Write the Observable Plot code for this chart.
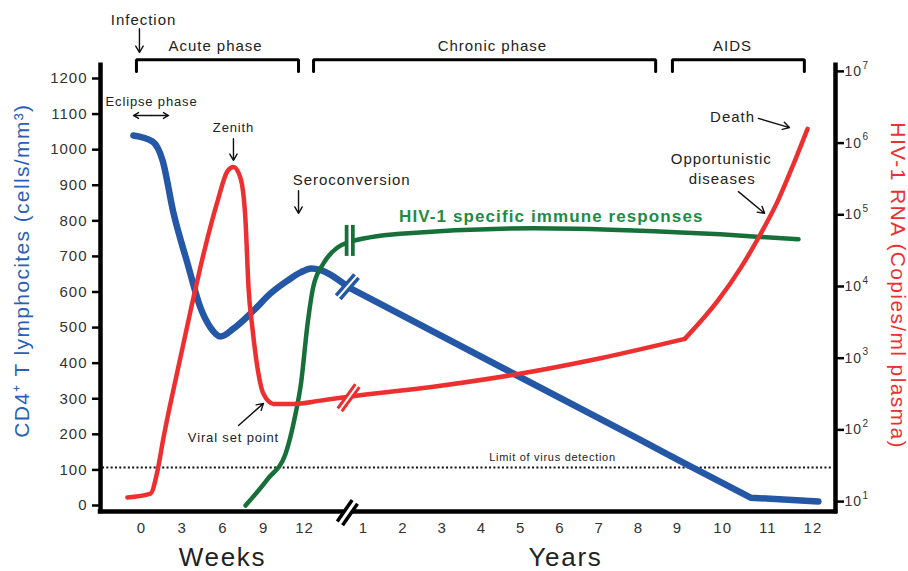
<!DOCTYPE html>
<html><head><meta charset="utf-8">
<script src="https://cdn.jsdelivr.net/npm/d3@7"></script>
<script src="https://cdn.jsdelivr.net/npm/@observablehq/plot@0.6"></script>
<style>
body{margin:0;background:#fff}
svg text{letter-spacing:0.065em}
</style></head><body><div id="chart"></div>
<script>
// ---- data ----
// CD4+ T lymphocytes (cells/mm3): [time, value]
const cd4Weeks = [[-0.59,1040],[0.81,1023],[1.55,970],[2.36,821],[3.39,680],[4.34,556],[5.08,500],[5.82,475],[6.77,497],[8.25,548],[9.5,596],[10.75,632],[11.71,655],[12.52,666]];
const cd4Years = [[0.62,613],[1,591],[8,187],[9,129],[10.62,22],[12.12,11]];
// HIV-1 RNA (copies/ml plasma)
const rnaWeeks = [[-1.03,11.4],[0.66,12.9],[1.18,27],[1.62,78],[2.65,664],[3.61,4570],[4.56,28000],[5.6,155000],[6.33,407000],[6.77,465000],[7.29,325000],[7.66,81000],[7.88,9500],[8.17,2600],[8.54,735],[8.98,318],[9.72,230],[11.19,230],[13.2,256]];
const rnaYears = [[0.62,290],[2.78,400],[4.82,587],[7.03,1000],[9.16,1860]];
const rnaAids = [[9.16,1860],[9.89,6300],[10.4,18200],[10.84,54000],[11.22,155000],[11.57,510000],[11.88,1580000]];
// HIV-1 specific immune responses (relative, on CD4 axis)
const immuneWeeks = [[7.66,0],[9.3,75],[10.6,145],[11.3,250],[11.75,345],[12.22,506],[12.66,613]];
const immuneYears = [[-0.02,680],[0.34,725],[0.59,739],[1.94,764],[5.33,779],[7.87,773],[9.95,762],[11.68,748]];
const detectionLimit = 30; // copies/ml
const weekTicks = [0,3,6,9,12];
const yearTicks = [1,2,3,4,5,6,7,8,9,10,11,12];
const cd4Ticks = d3.range(0,1201,100);
const rnaExponents = [1,2,3,4,5,6,7];

// ---- mapping helpers ----
const wk = w => w/3, yr = y => y + 4.5;
const rnaY = v => 11 + (Math.log10(v) - 1) * 201.5;
const series = (weeks, years, f = v => v) =>
  [...weeks.map(([t,v]) => ({x: wk(t), y: f(v)})), ...years.map(([t,v]) => ({x: yr(t), y: f(v)}))];
const cd4Acute = series(cd4Weeks, cd4Years.slice(0,1));
const cd4Chronic = series([], cd4Years);
const rnaMain = series(rnaWeeks, rnaYears, rnaY);
const rnaLate = series([], rnaAids, rnaY);
const immune = series(immuneWeeks, immuneYears);

const BLUE = "#2557a7", RED = "#ee2f30", GREEN = "#17703a";
const TXT = "#222";

// ---- layout (annotations) ----
const X0 = -1, X1 = 17, YB = -17, YT = 1237;
const phases = [
  {name:"Acute phase", a: wk(-0.37), b: wk(11.56), lx: wk(5.45)},
  {name:"Chronic phase", a: yr(-0.27), b: yr(8.44), lx: yr(4.28)},
  {name:"AIDS", a: yr(8.87), b: yr(11.81), lx: yr(10.22)}
];
const bracketPts = phases.flatMap(p => [
  {n:p.name, x:p.a, y:1220},{n:p.name, x:p.a, y:1253},{n:p.name, x:p.b, y:1253},{n:p.name, x:p.b, y:1220}]);
const notes15 = [
  {t:"Infection", x: wk(0.15), y:1363},
  ...phases.map(p => ({t:p.name, x:p.lx, y:1291})),
  {t:"Seroconversion", x: yr(0.7), y:913},
  {t:"Death", x: yr(10.22), y:1090},
  {t:"Opportunistic", x: yr(9.97), y:972},
  {t:"diseases", x: yr(9.99), y:916}
];
const notes13 = [
  {t:"Eclipse phase", x: wk(0.74), y:1135},
  {t:"Zenith", x: wk(6.77), y:1060},
  {t:"Viral set point", x: wk(6.77), y:191}
];
const arrows = [
  {x1: wk(-0.15), y1:1340, x2: wk(-0.15), y2:1273},
  {x1: wk(6.77), y1:1031, x2: wk(6.77), y2:970},
  {x1: wk(11.56), y1:885, x2: wk(11.56), y2:821},
  {x1: wk(7.14), y1:225, x2: wk(8.98), y2:287},
  {x1: yr(10.79), y1:1088, x2: yr(11.48), y2:1062},
  {x1: yr(10.35), y1:882, x2: yr(10.93), y2:821},
  {x1: wk(0.7), y1:1096, x2: wk(-0.59), y2:1096},
  {x1: wk(0.7), y1:1096, x2: wk(1.99), y2:1096}
];
const kx = 39.33, ky = 427/1200;
const breaks = [
  {x: yr(0.59), y: 615, angle: 49, len: 28, w: 9, gap: 2, c: BLUE},
  {x: yr(0.62), y: rnaY(280), angle: 54, len: 30, w: 8, gap: 2, c: RED},
  {x: yr(0.65), y: 745, angle: 90, len: 31, w: 10, gap: 2.5, c: GREEN},
  {x: yr(0.59), y: -20, angle: 55, len: 26, w: 10, gap: 3, c: "black"}
];
const seg = (d, extra = 0) => {
  const a = d.angle * Math.PI / 180, h = (d.len + extra) / 2;
  return {x1: d.x - h*Math.cos(a)/kx, x2: d.x + h*Math.cos(a)/kx, y1: d.y - h*Math.sin(a)/ky, y2: d.y + h*Math.sin(a)/ky, w: d.w, gap: d.gap, c: d.c};
};
const breakSegs = breaks.map(d => seg(d));
const breakGaps = breaks.map(d => seg(d, 2));
const curveBreaks = [0,1,2], axisBreak = [3];

const plot = Plot.plot({
  width: 908, height: 571,
  marginLeft: 100, marginRight: 73, marginTop: 78, marginBottom: 66,
  style: {fontFamily: "'Liberation Sans', Arial, Helvetica, sans-serif", background: "white", overflow: "visible"},
  x: {type: "linear", domain: [-1, 0, 4, 5.5, 12.5, 13.5, 17], range: [100, 141, 304, 363, 638, 677, 835], axis: null},
  y: {domain: [0, 1200], range: [505, 78]},
  marks: [
    Plot.ruleY([detectionLimit], {y: rnaY, x1: X0 + 0.05, x2: X1 - 0.05, stroke: "#111", strokeWidth: 2, strokeDasharray: "2,2.3"}),
    Plot.text(["Limit of virus detection"], {x: yr(5.81), y: 135, text: d => d, fontSize: 11, fill: TXT}),
    Plot.line(cd4Acute, {x: "x", y: "y", stroke: BLUE, strokeWidth: 6.5, curve: "monotone-x"}),
    Plot.line(cd4Chronic, {x: "x", y: "y", stroke: BLUE, strokeWidth: 6.5, curve: "linear"}),
    Plot.line(immune, {x: "x", y: "y", stroke: GREEN, strokeWidth: 4.5, curve: "monotone-x"}),
    Plot.line(rnaMain, {x: "x", y: "y", stroke: RED, strokeWidth: 4.5, curve: "monotone-x"}),
    Plot.line(rnaLate, {x: "x", y: "y", stroke: RED, strokeWidth: 4.5, curve: "monotone-x"}),
    Plot.link(curveBreaks.map(i => breakSegs[i]), {x1: "x1", y1: "y1", x2: "x2", y2: "y2", stroke: "c", strokeWidth: "w"}),
    Plot.link(curveBreaks.map(i => breakGaps[i]), {x1: "x1", y1: "y1", x2: "x2", y2: "y2", stroke: "white", strokeWidth: "gap"}),
    // frame
    Plot.ruleX([X0, X1], {y1: YB, y2: YT, stroke: "black", strokeWidth: 4.5, strokeLinecap: "square"}),
    Plot.ruleY([YB], {x1: X0, x2: X1, stroke: "black", strokeWidth: 4.5, strokeLinecap: "square"}),
    Plot.link(axisBreak.map(i => breakSegs[i]), {x1: "x1", y1: "y1", x2: "x2", y2: "y2", stroke: "c", strokeWidth: "w"}),
    Plot.link(axisBreak.map(i => breakGaps[i]), {x1: "x1", y1: "y1", x2: "x2", y2: "y2", stroke: "white", strokeWidth: "gap"}),
    // axes
    Plot.axisY({anchor: "left", ticks: cd4Ticks, tickFormat: d => String(d), tickSize: 8, tickPadding: 5, strokeWidth: 2.5, stroke: "black", fill: "#333", fontSize: 15, label: null}),
    Plot.axisY({anchor: "right", ticks: rnaExponents.map(e => rnaY(10 ** e)), tickFormat: () => "10", tickSize: 8, tickPadding: 1, strokeWidth: 2.5, stroke: "black", fill: "#333", fontSize: 14, label: null}),
    Plot.text(rnaExponents, {x: X1, y: e => rnaY(10 ** e), text: e => String(e), dx: 27, dy: -6, fontSize: 10, fill: "#333", textAnchor: "start"}),
    Plot.text(weekTicks, {x: wk, y: -65, text: d => String(d), fontSize: 15, fill: "#333"}),
    Plot.text(yearTicks, {x: yr, y: -65, text: d => String(d), fontSize: 15, fill: "#333"}),
    Plot.text(["Weeks"], {x: wk(5.96), y: -146, text: d => d, fontSize: 26, fill: TXT}),
    Plot.text(["Years"], {x: yr(6.14), y: -146, text: d => d, fontSize: 26, fill: TXT}),
    Plot.text(["CD4⁺ T lymphocites (cells/mm³)"], {x: -2.92, y: 660, text: d => d, rotate: -90, fontSize: 21, fill: "#2b5fb4"}),
    Plot.text(["HIV-1 RNA (Copies/ml plasma)"], {x: 18.37, y: 618, text: d => d, rotate: 90, fontSize: 21, fill: RED}),
    // annotations
    Plot.line(bracketPts, {x: "x", y: "y", z: "n", stroke: "black", strokeWidth: 3, strokeLinejoin: "miter"}),
    Plot.text(notes15, {x: "x", y: "y", text: "t", fontSize: 15, fill: TXT}),
    Plot.text(notes13, {x: "x", y: "y", text: "t", fontSize: 13, fill: TXT}),
    Plot.text(["HIV-1 specific immune responses"], {x: yr(5.78), y: 812, text: d => d, fontSize: 17, fontWeight: "bold", fill: "#1f8b47"}),
    Plot.arrow(arrows, {x1: "x1", y1: "y1", x2: "x2", y2: "y2", stroke: "#111", strokeWidth: 1.4, headLength: 8})
  ]
});
document.getElementById("chart").append(plot);
</script></body></html>
